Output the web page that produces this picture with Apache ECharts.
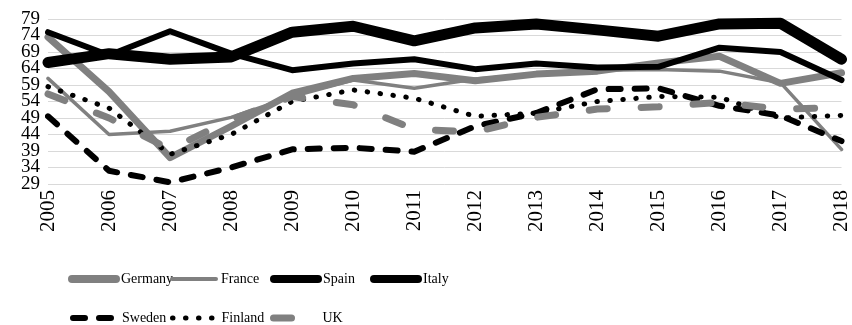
<!DOCTYPE html>
<html>
<head>
<meta charset="utf-8">
<script src="https://cdn.jsdelivr.net/npm/echarts@6/dist/echarts.min.js"></script>
<style>
  html, body { margin: 0; padding: 0; background: #ffffff; }
  #chart { width: 852px; height: 325px; }
</style>
</head>
<body>
<div id="chart"></div>
<script>
// Years along the horizontal axis
const years = ['2005', '2006', '2007', '2008', '2009', '2010', '2011',
               '2012', '2013', '2014', '2015', '2016', '2017', '2018'];

// Values per country
const germany = [73.5, 57, 37, 46.5, 56.5, 61, 62.5, 60.3, 62.3, 63.2, 65.7, 67.7, 59.5, 62.7];
const france  = [61, 44, 45, 49.2, 55.5, 60.5, 58, 60.8, 62.2, 63.5, 63.7, 63.2, 59.7, 39.5];
const spain   = [75, 68, 75.3, 68.5, 63.5, 65.5, 66.8, 63.8, 65.5, 64.3, 64.5, 70.3, 69, 60.5];
const italy   = [65.8, 68.5, 66.8, 67.5, 75, 76.8, 72.4, 76.3, 77.5, 75.7, 73.8, 77.5, 77.7, 66.8];
const sweden  = [49.5, 33, 29.5, 34, 39.5, 40, 38.8, 46.5, 50.5, 57.7, 58, 52.7, 49.7, 42];
const finland = [58.5, 52, 38, 44, 54, 57.5, 55, 49.5, 50.5, 54, 55.5, 55.3, 49, 49.8];
const uk      = [56.3, 49, 39.5, 48.5, 55.5, 53, 45.6, 44.8, 49.2, 51.7, 52.4, 53.7, 51.7, 52.2];

// Value axis range and step
const yMin = 29;
const yMax = 79;
const yStep = 5;

const GRAY = '#808080';
const BLACK = '#000000';
const FONT = "'Liberation Serif', 'Times New Roman', serif";
const Y_LABEL_SIZE = 19;

function lineSeries(name, data, color, width, type) {
  return {
    name: name,
    type: 'line',
    data: data,
    yAxisIndex: 0,
    symbol: 'none',
    smooth: false,
    lineStyle: { color: color, width: width, type: type || 'solid', cap: 'round', join: 'round' },
    itemStyle: { color: color },
    emphasis: { disabled: true }
  };
}

// One legend block per entry so the entries sit in fixed columns
function legendEntry(name, left, top, iconWidth) {
  return {
    padding: 0, itemWidth: 44, itemHeight: 14, itemGap: 0,
    left: left, top: top,
    itemStyle: { opacity: 0 },
    textStyle: { fontFamily: FONT, fontSize: 14, color: '#000' },
    data: [{ name: name, lineStyle: { width: iconWidth } }]
  };
}

// The tick labels are packed tightly; the second (label-only) axis carries
// the labels next to the extremes, which the first axis drops as overlapping.
const innerTicks = [yMin + yStep, yMax - yStep];

const chart = echarts.init(document.getElementById('chart'), null, { renderer: 'canvas' });
chart.setOption({
  animation: false,
  backgroundColor: '#ffffff',
  grid: { left: 48, right: 9, top: 19, bottom: 141, containLabel: false },
  xAxis: {
    type: 'category',
    data: years,
    boundaryGap: false,
    axisLine: { show: false },
    axisTick: { show: false },
    axisLabel: { rotate: 90, margin: 6, fontFamily: FONT, fontSize: 21, color: '#000' },
    splitLine: { show: false }
  },
  yAxis: [
    {
      type: 'value',
      min: yMin, max: yMax, interval: yStep,
      axisLine: { show: false },
      axisTick: { show: false },
      axisLabel: {
        margin: 8, fontFamily: FONT, fontSize: Y_LABEL_SIZE, color: '#000',
        showMinLabel: true, showMaxLabel: true
      },
      splitLine: { show: true, showMinLine: true, showMaxLine: true, lineStyle: { color: '#d9d9d9', width: 1 } }
    },
    {
      type: 'value',
      position: 'left',
      min: yMin, max: yMax, interval: yStep,
      axisLine: { show: false },
      axisTick: { show: false },
      splitLine: { show: false },
      axisLabel: {
        margin: 8, fontFamily: FONT, fontSize: Y_LABEL_SIZE, color: '#000',
        showMinLabel: false, showMaxLabel: false,
        formatter: function (v) { return innerTicks.indexOf(v) >= 0 ? String(v) : ''; }
      }
    }
  ],
  legend: [
    legendEntry('Germany', 68, 272, 8),
    legendEntry('France', 170, 272, 4),
    legendEntry('Spain', 270, 272, 8),
    legendEntry('Italy', 370, 272, 8),
    legendEntry('Sweden', 70, 311, 6),
    legendEntry('Finland', 170, 311, 5),
    legendEntry('UK', 270, 311, 7)
  ],
  series: [
    lineSeries('Germany', germany, GRAY, 7),
    lineSeries('France', france, GRAY, 3.5),
    lineSeries('Spain', spain, BLACK, 6),
    lineSeries('Italy', italy, BLACK, 11),
    lineSeries('Sweden', sweden, BLACK, 6, [12, 14]),
    lineSeries('Finland', finland, BLACK, 5, [0.5, 12.5]),
    lineSeries('UK', uk, GRAY, 7, [18, 34])
  ]
});
</script>
</body>
</html>
